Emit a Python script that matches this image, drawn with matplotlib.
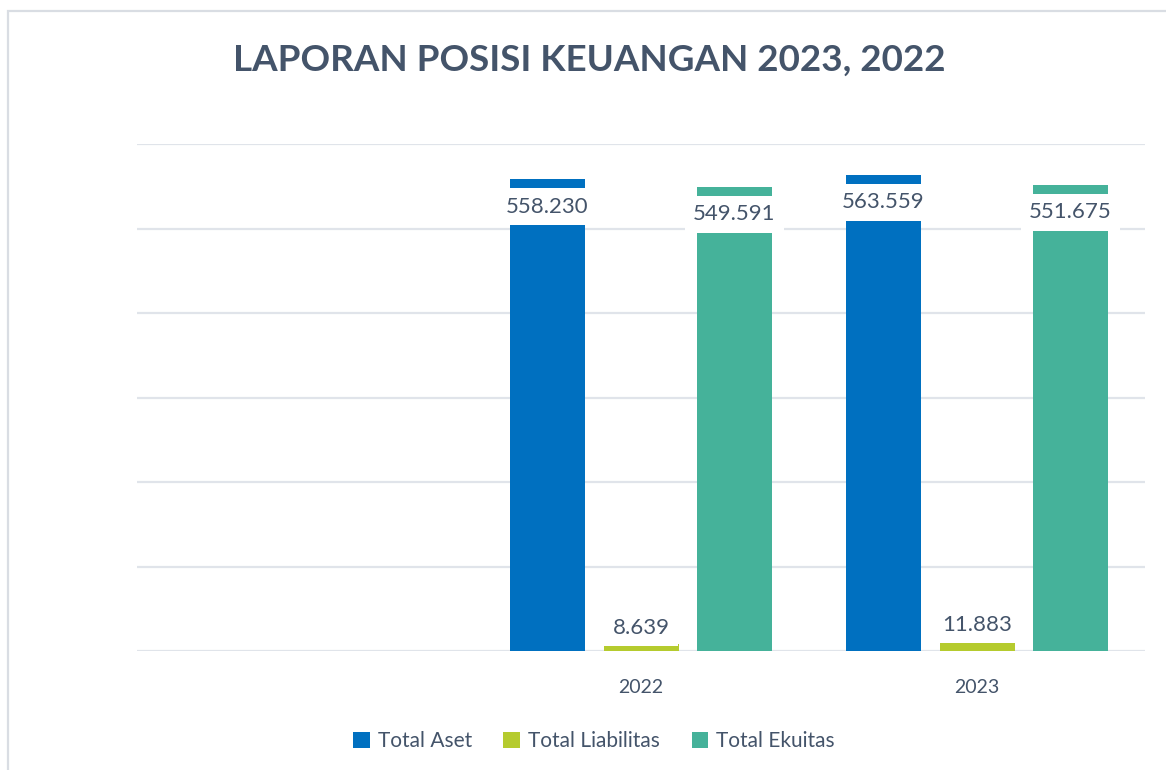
import numpy as np
import matplotlib
matplotlib.use("Agg")
import matplotlib.pyplot as plt
from matplotlib.patches import Rectangle

categories = ["", "2022", "2023"]
series_names = ["Total Aset", "Total Liabilitas", "Total Ekuitas"]
total_aset = [np.nan, 558230, 563559]
total_liabilitas = [np.nan, 8639, 11883]
total_ekuitas = [np.nan, 549591, 551675]
colors = ["#0070C0", "#B5CB2E", "#45B29A"]
text_color = "#44546A"
grid_color = "#E0E4EA"

plt.rcParams['font.family'] = ['Lato', 'DejaVu Sans']

fig = plt.figure(figsize=(11.66, 7.70), dpi=100)
ax = fig.add_axes([137/1166, 1-651/770, (1145-137)/1166, (651-144)/770])

# chart border (top and left visible)
fig.patches.append(Rectangle((7.5/1166, -0.05), 1.2, 1-11/770+0.05, transform=fig.transFigure,
                             fill=False, edgecolor="#D9DDE3", linewidth=1.6))

x = np.arange(len(categories))
spacing = 93.5/336
width = 75/336
ymax = 600000
all_series = [total_aset, total_liabilitas, total_ekuitas]

for i, (vals, name, col) in enumerate(zip(all_series, series_names, colors)):
    pos = x + (i-1)*spacing
    ax.bar(pos, vals, width=width, color=col, label=name, zorder=3)
    for p, v in zip(pos, vals):
        if np.isnan(v):
            continue
        lab = f"{v:,.0f}".replace(",", ".")
        if v > 0.8*ymax:
            yl = v - 32500
        else:
            yl = v + 19000
        ax.text(p, yl, lab, ha="center", va="center", fontsize=16, color=text_color, zorder=4,
                bbox=dict(boxstyle="square,pad=0.38", facecolor="white", edgecolor="none"))

ax.set_ylim(0, ymax)
ax.set_xlim(-0.5, len(categories)-0.5)
ax.set_yticks(np.arange(0, ymax+1, 100000))
ax.yaxis.grid(True, color=grid_color, linewidth=1.6, zorder=0)
ax.set_axisbelow(True)
ax.tick_params(axis="y", left=False, labelleft=False)
ax.set_xticks(x)
ax.set_xticklabels(categories, fontsize=14, color=text_color)
ax.tick_params(axis="x", length=0, pad=20)
for s in ax.spines.values():
    s.set_visible(False)

fig.text(589/1166, 1-60/770, "LAPORAN POSISI KEUANGAN 2023, 2022", ha="center", va="center",
         fontsize=26.5, fontweight="bold", color=text_color)

leg = fig.legend(loc="center", bbox_to_anchor=(594/1166, 1-741/770), ncol=3, frameon=False,
                 fontsize=15, handlelength=0.8, handleheight=0.8, handletextpad=0.4,
                 columnspacing=1.5, labelcolor=text_color)

fig.savefig("out.png", dpi=100, facecolor="white")
